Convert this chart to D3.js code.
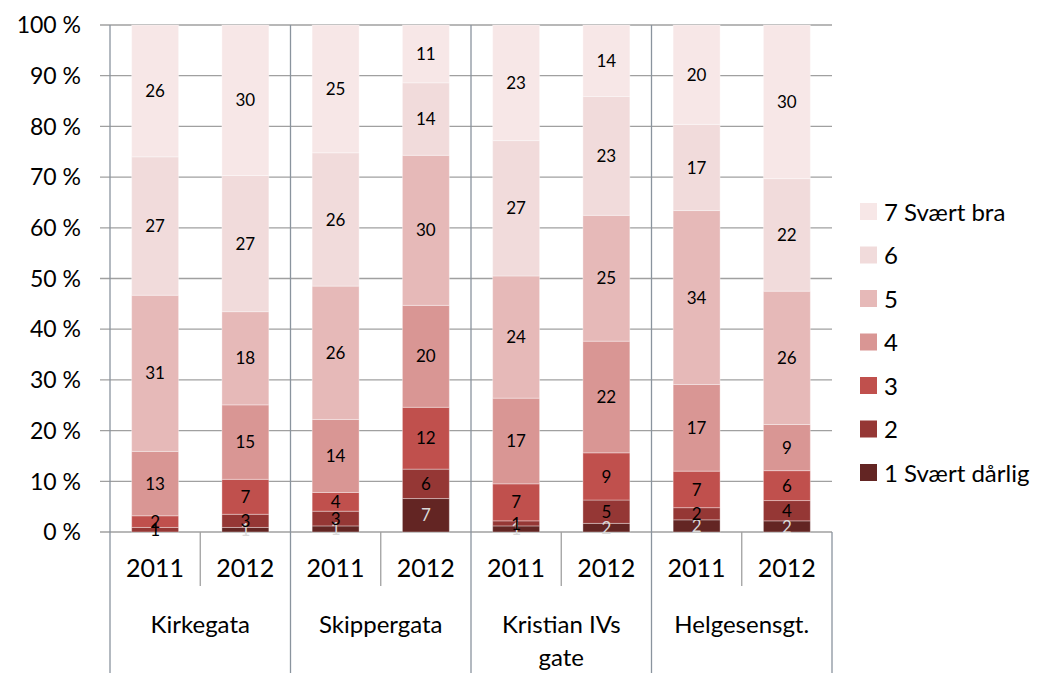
<!DOCTYPE html>
<html><head><meta charset="utf-8">
<script src="https://cdn.jsdelivr.net/npm/d3@7"></script>
<style>body{margin:0;background:#fff}svg{display:block;font-family:Lato,"Open Sans",sans-serif}</style>
</head><body><svg id="c" width="1045" height="673"></svg>
<script>
const groups = ["Kirkegata","Skippergata","Kristian IVs gate","Helgesensgt."];
const groupLines = [["Kirkegata"],["Skippergata"],["Kristian IVs","gate"],["Helgesensgt."]];
const years = ["2011","2012"];
const seriesNames = ["1 Svært dårlig","2","3","4","5","6","7 Svært bra"];
const colors = ["#632523","#953735","#c0504d","#d99694","#e6b9b8","#f1dbdb","#f7e7e7"];
// percent per bar (series 1..7), order: Kirkegata 2011, 2012, Skippergata 2011, 2012, Kristian 2011, 2012, Helgesensgt 2011, 2012
const s1 = [0,   0.9, 1.2, 6.6, 1.2, 1.7, 2.4, 2.2];
const s2 = [0.9, 2.6, 2.9, 5.8, 1.0, 4.6, 2.4, 4.0];
const s3 = [2.3, 6.9, 3.7, 12.2, 7.3, 9.3, 7.2, 5.9];
const s4 = [12.7,14.7,14.4,20.1,16.9,22.0,17.1,9.1];
const s5 = [30.8,18.4,26.3,29.6,24.1,24.8,34.3,26.3];
const s6 = [27.3,26.9,26.3,14.3,26.7,23.4,17.0,22.2];
const s7 = [26.0,29.7,25.2,11.4,22.8,14.1,19.6,30.3];
const yTicks = [0,0.1,0.2,0.3,0.4,0.5,0.6,0.7,0.8,0.9,1];

const allSeries=[s1,s2,s3,s4,s5,s6,s7];
const rows=[];
groups.forEach((g,gi)=>years.forEach((yr,yi)=>{
  const i=gi*2+yi; const r={group:g,year:yr};
  seriesNames.forEach((n,k)=>r[n]=allSeries[k][i]); rows.push(r);
}));
const stack=d3.stack().keys(seriesNames).offset(d3.stackOffsetExpand);
const stacked=stack(rows);

const svg=d3.select("#c");
const L=110,R=832,T=25,B=532;
const x0=d3.scaleBand().domain(groups).range([L,R]);
const x1=d3.scaleBand().domain(years).range([0,x0.bandwidth()]).paddingInner(0.48).paddingOuter(0.24);
const y=d3.scaleLinear().domain([0,1]).range([B,T]);

// gridlines
svg.append("g").selectAll("line").data(yTicks).join("line")
  .attr("x1",100).attr("x2",R).attr("y1",d=>y(d)).attr("y2",d=>y(d))
  .attr("stroke","#a0a0a0").attr("stroke-width",1.3);
// y labels
svg.append("g").selectAll("text").data(yTicks).join("text")
  .attr("x",81).attr("y",d=>y(d)).attr("dy","0.36em").attr("text-anchor","end")
  .attr("font-size",23).attr("fill","#000").text(d=>d3.format(".0f")(d*100)+" %");

// bars
const lay=svg.append("g");
stacked.forEach((ser,k)=>{
  lay.append("g").selectAll("rect").data(ser).join("rect")
    .attr("x",d=>x0(d.data.group)+x1(d.data.year)).attr("width",x1.bandwidth())
    .attr("y",d=>y(d[1])).attr("height",d=>y(d[0])-y(d[1]))
    .attr("fill",colors[k]).attr("stroke","rgba(255,255,255,0.35)").attr("stroke-width",1);
});
// labels
stacked.forEach((ser,k)=>{
  lay.append("g").selectAll("text").data(ser.filter(d=>d.data[seriesNames[k]]>0)).join("text")
    .attr("x",d=>x0(d.data.group)+x1(d.data.year)+x1.bandwidth()/2)
    .attr("y",d=>y((d[0]+d[1])/2)).attr("dy","0.36em").attr("text-anchor","middle")
    .attr("font-size",17).attr("fill",k===0?"#d9d9d9":"#000")
    .text(d=>Math.round(d.data[seriesNames[k]]));
});

// axis lines
const axc="#8a949e";
svg.append("line").attr("x1",L).attr("x2",L).attr("y1",T).attr("y2",673).attr("stroke",axc).attr("stroke-width",1.3);
svg.append("g").selectAll("line").data(groups.slice(1)).join("line")
  .attr("x1",d=>x0(d)).attr("x2",d=>x0(d)).attr("y1",T).attr("y2",673).attr("stroke",axc).attr("stroke-width",1.3);
svg.append("line").attr("x1",R).attr("x2",R).attr("y1",B).attr("y2",673).attr("stroke",axc).attr("stroke-width",1.3);
svg.append("g").selectAll("line").data(groups).join("line")
  .attr("x1",d=>x0(d)+x0.bandwidth()/2).attr("x2",d=>x0(d)+x0.bandwidth()/2)
  .attr("y1",B).attr("y2",586).attr("stroke","#a0a0a0").attr("stroke-width",1.3);

// year labels
groups.forEach(g=>{
  svg.append("g").selectAll("text").data(years).join("text")
    .attr("x",d=>x0(g)+x1(d)+x1.bandwidth()/2).attr("y",568).attr("dy","0.36em")
    .attr("text-anchor","middle").attr("font-size",25).text(d=>d);
});
// group labels
groupLines.forEach((lines,gi)=>{
  const cx=x0(groups[gi])+x0.bandwidth()/2;
  const t=svg.append("text").attr("x",cx).attr("y",624).attr("text-anchor","middle").attr("font-size",24);
  lines.forEach((ln,li)=>t.append("tspan").attr("x",cx).attr("y",624+li*33).attr("dy","0.36em").text(ln));
});

// legend
const leg=svg.append("g");
const legOrder=seriesNames.map((n,k)=>({n,k})).reverse();
leg.selectAll("rect").data(legOrder).join("rect")
  .attr("x",860).attr("y",(d,i)=>203+i*43.5).attr("width",17).attr("height",17).attr("fill",d=>colors[d.k]);
leg.selectAll("text").data(legOrder).join("text")
  .attr("x",884).attr("y",(d,i)=>212+i*43.5).attr("dy","0.36em").attr("font-size",24).text(d=>d.n);
</script></body></html>
